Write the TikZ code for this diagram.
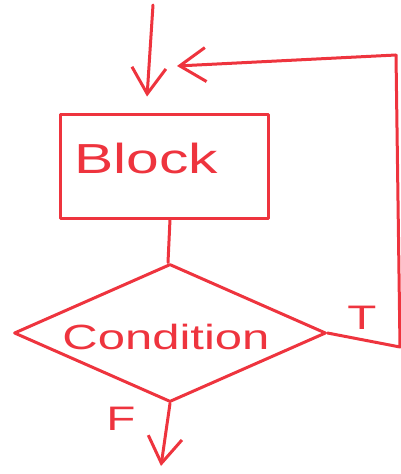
\documentclass[tikz,border=0pt]{standalone}
\usepackage{fontspec}
\usetikzlibrary{shapes.geometric,arrows.meta}
\newfontfamily\handfont[FakeStretch=1.4]{Liberation Sans}
\definecolor{pen}{RGB}{238,52,62}
\begin{document}
\begin{tikzpicture}[x=1pt,y=-1pt,
  line width=3pt, draw=pen, line cap=round, line join=round,
  tip/.style={-{Straight Barb[length=26pt,width=34pt,line width=3pt]}},
  box/.style={draw=pen, line width=3pt, rectangle, minimum width=208pt, minimum height=104pt, inner sep=0pt},
  cond/.style={draw=pen, line width=3pt, diamond, aspect=2.25, minimum width=312pt, minimum height=138pt, inner sep=0pt},
  lbl/.style={text=pen, font=\handfont\fontsize{34}{34}\selectfont}]
\useasboundingbox (0,0) rectangle (401,474);
\node[box] (block) at (164,166) {};
\node[lbl, font=\handfont\fontsize{42}{42}\selectfont] (btext) at (146,158) {Block};
\node[cond] (c) at (170,333) {};
\node[lbl, font=\handfont\fontsize{35}{35}\selectfont] (ctext) at (166,337) {Condition};
\node[lbl, font=\handfont\fontsize{34}{34}\selectfont] (t) at (362,318) {T};
\node[lbl, font=\handfont\fontsize{34}{34}\selectfont] (f) at (121,419) {F};
\coordinate (start) at (153,5);
\coordinate (end) at (161,466);
\coordinate (r1) at (400,347);
\coordinate (r2) at (396,55);
\coordinate (back) at (177,66);
\draw[tip, shorten >=16pt] (start) -- (block.north -| 146,0);
\draw (block.south -| 170,0) -- (c.north -| 168,0);
\draw (c.east) -- (r1) -- (r2);
\draw[tip] (r2) -- (back);
\draw[tip] (c.south) -- (end);
\end{tikzpicture}
\end{document}
